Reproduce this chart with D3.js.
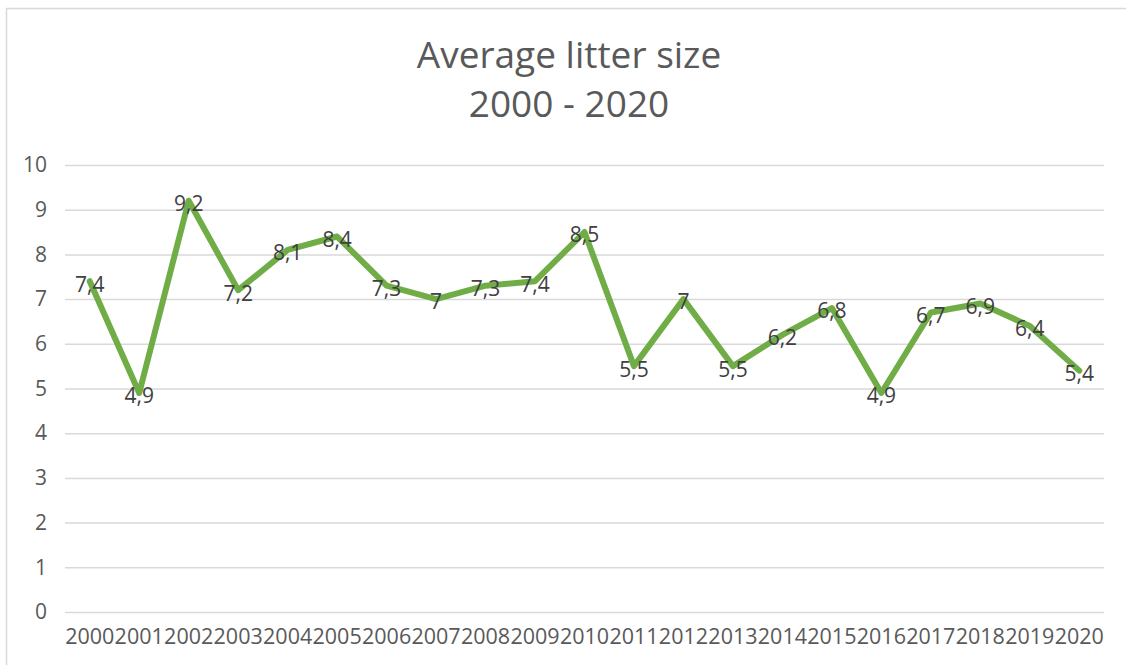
<!DOCTYPE html>
<html>
<head>
<meta charset="utf-8">
<script src="https://cdn.jsdelivr.net/npm/d3@7"></script>
<style>
  html, body { margin: 0; padding: 0; background: #fff; }
  svg { display: block; font-family: "Open Sans", "Noto Sans", sans-serif; }
</style>
</head>
<body>
<svg id="chart" width="1126" height="665"></svg>
<script>
const titleLines = ["Average litter size", "2000 - 2020"];
const years = ["2000","2001","2002","2003","2004","2005","2006","2007","2008","2009","2010",
               "2011","2012","2013","2014","2015","2016","2017","2018","2019","2020"];
const values = [7.4, 4.9, 9.2, 7.2, 8.1, 8.4, 7.3, 7.0, 7.3, 7.4, 8.5,
                5.5, 7.0, 5.5, 6.2, 6.8, 4.9, 6.7, 6.9, 6.4, 5.4];
const yTicks = [0,1,2,3,4,5,6,7,8,9,10];

const svg = d3.select("#chart");
const W = 1126, H = 665;
const m = {left: 65, right: 22, top: 165, bottom: 53};

// chart area border
svg.append("rect")
  .attr("x", 6.5).attr("y", 8.5)
  .attr("width", W + 20).attr("height", H + 20)
  .attr("fill", "#fff").attr("stroke", "#d9d9d9").attr("stroke-width", 1.5);

const x = d3.scaleBand().domain(years).range([m.left, W - m.right]).padding(0);
const y = d3.scaleLinear().domain([0, 10]).range([H - m.bottom, m.top]);

// title
svg.append("g").selectAll("text").data(titleLines).join("text")
  .attr("x", 569)
  .attr("y", (d, i) => 68 + i * 49)
  .attr("text-anchor", "middle")
  .attr("fill", "#595959")
  .attr("font-size", 37)
  .text(d => d);

// gridlines
const yAxis = d3.axisLeft(y).tickValues(yTicks).tickSize(-(W - m.right - m.left)).tickPadding(18)
  .tickFormat(d3.format("d"));
const gy = svg.append("g").attr("transform", `translate(${m.left},0)`).call(yAxis);
gy.select(".domain").remove();
gy.selectAll(".tick line").attr("stroke", "#d9d9d9").attr("stroke-width", 1.5);
gy.selectAll(".tick text").attr("fill", "#595959").attr("font-size", 21)
  .attr("font-family", "'Open Sans', sans-serif");

// x axis labels
const xAxis = d3.axisBottom(x).tickSize(0).tickPadding(17);
const gx = svg.append("g").attr("transform", `translate(0,${H - m.bottom})`).call(xAxis);
gx.select(".domain").remove();
gx.selectAll(".tick text").attr("fill", "#595959").attr("font-size", 21.5)
  .attr("font-family", "'Open Sans', sans-serif");

// line
const line = d3.line()
  .x((d, i) => x(years[i]) + x.bandwidth() / 2)
  .y(d => y(d));
svg.append("path")
  .datum(values)
  .attr("d", line)
  .attr("fill", "none")
  .attr("stroke", "#70ad47")
  .attr("stroke-width", 6)
  .attr("stroke-linejoin", "round")
  .attr("stroke-linecap", "round");

// data labels
const fmt = v => (Number.isInteger(v) ? String(v) : v.toFixed(1).replace(".", ","));
svg.append("g").selectAll("text").data(values).join("text")
  .attr("x", (d, i) => x(years[i]) + x.bandwidth() / 2)
  .attr("y", d => y(d) + 3)
  .attr("dy", "0.35em")
  .attr("text-anchor", "middle")
  .attr("fill", "#404040")
  .attr("font-size", 21)
  .text(fmt);
</script>
</body>
</html>
